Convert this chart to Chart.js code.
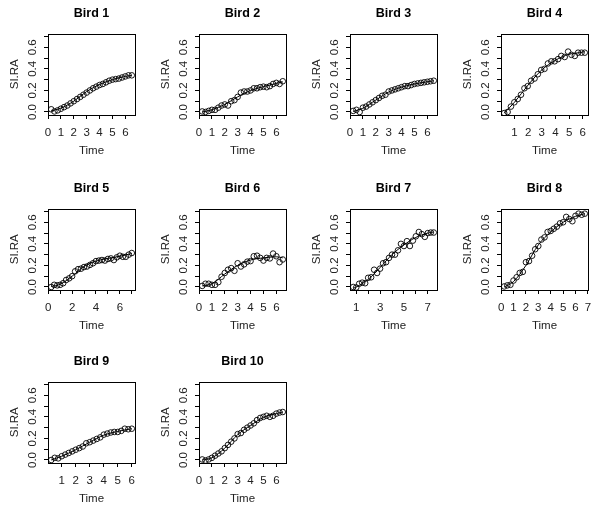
<!DOCTYPE html>
<html>
<head>
<meta charset="utf-8">
<script src="https://cdn.jsdelivr.net/npm/chart.js@4.4.1/dist/chart.umd.min.js"></script>
<style>
  html, body { margin: 0; padding: 0; background: #fff; }
  #wrap { position: relative; width: 600px; height: 513px; overflow: hidden; }
  #wrap canvas { position: absolute; }
</style>
</head>
<body>
<div id="wrap"></div>
<script>
const FONT = 'Liberation Sans, Arial, Helvetica, sans-serif';

// sampling times
const timesA = [0.25, 0.5, 0.75, 1, 1.25, 1.5, 1.75, 2, 2.25, 2.5, 2.75, 3, 3.25, 3.5, 3.75, 4, 4.25, 4.5, 4.75, 5, 5.25, 5.5, 5.75, 6, 6.25, 6.5];
const timesB = [0.25, 0.5, 0.74, 0.99, 1.24, 1.48, 1.73, 1.97, 2.22, 2.47, 2.71, 2.96, 3.2, 3.45, 3.7, 3.94, 4.19, 4.43, 4.68, 4.93, 5.17, 5.42, 5.66, 5.91, 6.15];
const timesC = [0.25, 0.5, 0.75, 1, 1.25, 1.5, 1.75, 2, 2.25, 2.5, 2.75, 3, 3.25, 3.5, 3.75, 4, 4.25, 4.5, 4.75, 5, 5.25, 5.5, 5.75, 6, 6.25, 6.5, 6.75, 7];
const timesD = [0.75, 1, 1.25, 1.5, 1.75, 2, 2.25, 2.5, 2.75, 3, 3.25, 3.5, 3.75, 4, 4.25, 4.5, 4.75, 5, 5.25, 5.5, 5.75, 6, 6.25, 6.5, 6.75, 7, 7.25, 7.5];
const timesE = [0.25, 0.5, 0.75, 1, 1.25, 1.5, 1.75, 2, 2.25, 2.5, 2.75, 3, 3.25, 3.5, 3.75, 4, 4.25, 4.5, 4.75, 5, 5.25, 5.5, 5.75, 6, 6.25, 6.5, 6.75];
const timesF = [0.25, 0.5, 0.75, 1, 1.25, 1.5, 1.75, 2, 2.25, 2.5, 2.75, 3, 3.25, 3.5, 3.75, 4, 4.25, 4.5, 4.75, 5, 5.25, 5.5, 5.75, 6];

const birdNames = ['Bird 1', 'Bird 2', 'Bird 3', 'Bird 4', 'Bird 5', 'Bird 6', 'Bird 7', 'Bird 8', 'Bird 9', 'Bird 10'];
const birdTimes = [timesA, timesA, timesA, timesB, timesC, timesA, timesD, timesE, timesF, timesA];

// observed SI.RA
const siraBird1 = [0.025, 0.005, 0.015, 0.03, 0.045, 0.06, 0.08, 0.10, 0.12, 0.14, 0.16, 0.18, 0.20, 0.22, 0.235, 0.25, 0.26, 0.275, 0.29, 0.30, 0.305, 0.31, 0.32, 0.33, 0.34, 0.34];
const siraBird2 = [0.005, 0.0, 0.01, 0.02, 0.02, 0.04, 0.06, 0.07, 0.06, 0.10, 0.11, 0.14, 0.18, 0.19, 0.19, 0.20, 0.22, 0.22, 0.23, 0.235, 0.23, 0.24, 0.26, 0.27, 0.26, 0.285];
const siraBird3 = [0.01, 0.02, 0.0, 0.04, 0.05, 0.07, 0.09, 0.11, 0.13, 0.15, 0.16, 0.19, 0.20, 0.21, 0.22, 0.23, 0.24, 0.24, 0.25, 0.26, 0.265, 0.27, 0.275, 0.28, 0.285, 0.29];
const siraBird4 = [-0.01, 0.0, 0.05, 0.09, 0.12, 0.16, 0.22, 0.24, 0.29, 0.31, 0.35, 0.39, 0.40, 0.45, 0.47, 0.47, 0.49, 0.52, 0.51, 0.56, 0.53, 0.52, 0.55, 0.55, 0.55];
const siraBird5 = [0.0, 0.02, 0.015, 0.02, 0.035, 0.065, 0.08, 0.10, 0.145, 0.165, 0.17, 0.185, 0.19, 0.205, 0.22, 0.24, 0.245, 0.25, 0.245, 0.26, 0.265, 0.25, 0.275, 0.29, 0.28, 0.28, 0.30, 0.315];
const siraBird6 = [0.01, 0.03, 0.03, 0.02, 0.02, 0.045, 0.095, 0.13, 0.16, 0.175, 0.15, 0.22, 0.19, 0.21, 0.235, 0.24, 0.285, 0.29, 0.27, 0.245, 0.27, 0.265, 0.31, 0.285, 0.23, 0.255];
const siraBird7 = [0.0, -0.005, 0.03, 0.04, 0.035, 0.085, 0.09, 0.16, 0.13, 0.17, 0.22, 0.23, 0.27, 0.30, 0.30, 0.34, 0.40, 0.38, 0.425, 0.38, 0.43, 0.47, 0.51, 0.49, 0.465, 0.50, 0.505, 0.505];
const siraBird8 = [0.005, 0.015, 0.02, 0.06, 0.09, 0.13, 0.14, 0.23, 0.24, 0.29, 0.35, 0.38, 0.44, 0.46, 0.51, 0.52, 0.54, 0.56, 0.59, 0.60, 0.65, 0.63, 0.61, 0.66, 0.68, 0.67, 0.68];
const siraBird9 = [0.0, 0.02, 0.015, 0.035, 0.05, 0.065, 0.08, 0.095, 0.11, 0.125, 0.155, 0.165, 0.18, 0.195, 0.21, 0.235, 0.245, 0.255, 0.26, 0.26, 0.27, 0.29, 0.285, 0.29];
const siraBird10 = [0.005, -0.005, 0.005, 0.02, 0.04, 0.06, 0.08, 0.11, 0.14, 0.17, 0.20, 0.24, 0.25, 0.28, 0.30, 0.32, 0.34, 0.37, 0.39, 0.40, 0.41, 0.40, 0.41, 0.43, 0.44, 0.445];
const birdValues = [siraBird1, siraBird2, siraBird3, siraBird4, siraBird5, siraBird6, siraBird7, siraBird8, siraBird9, siraBird10];

// fitted curve, read at a few times
const fitTimes = [
  [0.25, 1, 2, 3, 4, 5, 6, 6.5],
  [0.25, 1, 2, 3, 4, 5, 6, 6.5],
  [0.25, 1, 2, 3, 4, 5, 6, 6.5],
  [0.25, 1, 2, 3, 4, 5, 6, 6.15],
  [0.25, 1, 2, 3, 4, 5, 6, 7],
  [0.25, 1, 2, 3, 4, 5, 6, 6.5],
  [0.75, 1, 2, 3, 4, 5, 6, 7, 7.5],
  [0.25, 1, 2, 3, 4, 5, 6, 6.75],
  [0.25, 1, 2, 3, 4, 5, 6],
  [0.25, 1, 2, 3, 4, 5, 6, 6.5]
];
const fitValues = [
  [0.01, 0.035, 0.10, 0.19, 0.255, 0.30, 0.33, 0.34],
  [0.0, 0.02, 0.07, 0.14, 0.20, 0.235, 0.265, 0.28],
  [0.005, 0.035, 0.11, 0.185, 0.23, 0.26, 0.28, 0.29],
  [-0.01, 0.09, 0.25, 0.39, 0.48, 0.535, 0.555, 0.56],
  [0.005, 0.025, 0.10, 0.19, 0.24, 0.265, 0.285, 0.31],
  [0.01, 0.03, 0.12, 0.20, 0.25, 0.27, 0.28, 0.27],
  [-0.01, 0.0, 0.07, 0.18, 0.30, 0.39, 0.46, 0.50, 0.51],
  [0.0, 0.05, 0.20, 0.39, 0.51, 0.60, 0.655, 0.68],
  [0.0, 0.035, 0.095, 0.165, 0.23, 0.265, 0.29],
  [0.0, 0.02, 0.11, 0.235, 0.32, 0.395, 0.43, 0.445]
];

// axes
const xTicks = [
  [0, 1, 2, 3, 4, 5, 6], [0, 1, 2, 3, 4, 5, 6], [0, 1, 2, 3, 4, 5, 6], [1, 2, 3, 4, 5, 6],
  [0, 1, 2, 3, 4, 5, 6, 7], [0, 1, 2, 3, 4, 5, 6], [1, 2, 3, 4, 5, 6, 7], [0, 1, 2, 3, 4, 5, 6, 7],
  [1, 2, 3, 4, 5, 6], [0, 1, 2, 3, 4, 5, 6]
];
const xTickLabels = [
  ['0', '1', '2', '3', '4', '5', '6'], ['0', '1', '2', '3', '4', '5', '6'], ['0', '1', '2', '3', '4', '5', '6'], ['1', '2', '3', '4', '5', '6'],
  ['0', '', '2', '', '4', '', '6', ''], ['0', '1', '2', '3', '4', '5', '6'], ['1', '', '3', '', '5', '', '7'], ['0', '1', '2', '3', '4', '5', '6', '7'],
  ['1', '2', '3', '4', '5', '6'], ['0', '1', '2', '3', '4', '5', '6']
];
const yTicks = [0, 0.1, 0.2, 0.3, 0.4, 0.5, 0.6, 0.7];
const yTickLabels = ['0.0', '', '0.2', '', '0.4', '', '0.6', ''];
const yLimits = [0, 0.7];

const colLeft = [0, 151, 302, 453];
const rowTop = [0, 175, 348];

// R style: closed box + rotated y labels
const rBox = {
  id: 'rBox',
  afterDraw(chart) {
    const { ctx, chartArea: a, scales } = chart;
    ctx.save();
    ctx.strokeStyle = '#000';
    ctx.lineWidth = 1;
    const l = Math.round(a.left) + 0.5, t = Math.round(a.top) + 0.5;
    const r = Math.round(a.right) + 0.5, b = Math.round(a.bottom) + 0.5;
    ctx.strokeRect(l, t, r - l, b - t);
    ctx.fillStyle = '#222';
    ctx.font = '11.5px ' + FONT;
    ctx.textAlign = 'center';
    ctx.textBaseline = 'middle';
    yTicks.forEach((v, i) => {
      if (!yTickLabels[i]) return;
      const y = scales.y.getPixelForValue(v);
      ctx.save();
      ctx.translate(a.left - 15, y);
      ctx.rotate(-Math.PI / 2);
      ctx.fillText(yTickLabels[i], 0, 0);
      ctx.restore();
    });
    ctx.restore();
  }
};

const wrap = document.getElementById('wrap');
const yExt = 0.04 * (yLimits[1] - yLimits[0]);

birdNames.forEach((name, i) => {
  const canvas = document.createElement('canvas');
  canvas.width = 150;
  canvas.height = 175;
  canvas.style.left = colLeft[i % 4] + 'px';
  canvas.style.top = rowTop[Math.floor(i / 4)] + 'px';
  wrap.appendChild(canvas);

  const t = birdTimes[i];
  const lo = Math.min(...t), hi = Math.max(...t);
  const ext = 0.04 * (hi - lo);

  new Chart(canvas.getContext('2d'), {
    type: 'scatter',
    data: {
      datasets: [
        {
          data: t.map((x, j) => ({ x: x, y: birdValues[i][j] })),
          showLine: false,
          pointStyle: 'circle',
          pointRadius: 2.8,
          pointBorderWidth: 0.9,
          pointBorderColor: '#000',
          pointBackgroundColor: 'rgba(0,0,0,0)'
        },
        {
          data: fitTimes[i].map((x, j) => ({ x: x, y: fitValues[i][j] })),
          showLine: true,
          pointRadius: 0,
          borderColor: '#000',
          borderWidth: 1,
          cubicInterpolationMode: 'monotone'
        }
      ]
    },
    options: {
      responsive: false,
      animation: false,
      events: [],
      layout: { padding: { left: 0, right: 15, top: 0, bottom: 17 } },
      plugins: {
        legend: { display: false },
        tooltip: { enabled: false },
        title: {
          display: true,
          fullSize: false,
          text: name,
          color: '#000',
          font: { family: FONT, size: 12.5, weight: 'bold' },
          padding: { top: 6, bottom: 12.5 }
        }
      },
      scales: {
        x: {
          type: 'linear',
          min: lo - ext,
          max: hi + ext,
          afterBuildTicks: (s) => { s.ticks = xTicks[i].map((v) => ({ value: v })); },
          afterFit: (s) => { s.height = 43; s.paddingLeft = 0; s.paddingRight = 0; },
          grid: { display: true, drawOnChartArea: false, drawTicks: true, tickLength: 4, color: '#000', lineWidth: 1 },
          border: { display: false },
          ticks: {
            color: '#222',
            padding: 6.5,
            maxRotation: 0,
            autoSkip: false,
            font: { family: FONT, size: 11.5 },
            callback: (v, idx) => xTickLabels[i][idx]
          },
          title: { display: true, text: 'Time', color: '#222', font: { family: FONT, size: 11.5 }, padding: { top: 0, bottom: 0 } }
        },
        y: {
          type: 'linear',
          min: yLimits[0] - yExt,
          max: yLimits[1] + yExt,
          afterBuildTicks: (s) => { s.ticks = yTicks.map((v) => ({ value: v })); },
          afterFit: (s) => { s.width = 48; s.paddingTop = 0; s.paddingBottom = 0; },
          grid: { display: true, drawOnChartArea: false, drawTicks: true, tickLength: 4, color: '#000', lineWidth: 1 },
          border: { display: false },
          ticks: { callback: () => '', autoSkip: false, padding: 0 },
          title: { display: true, text: 'SI.RA', color: '#222', font: { family: FONT, size: 11.5 }, padding: { top: 8, bottom: 0 } }
        }
      }
    },
    plugins: [rBox]
  });
});
</script>
</body>
</html>
